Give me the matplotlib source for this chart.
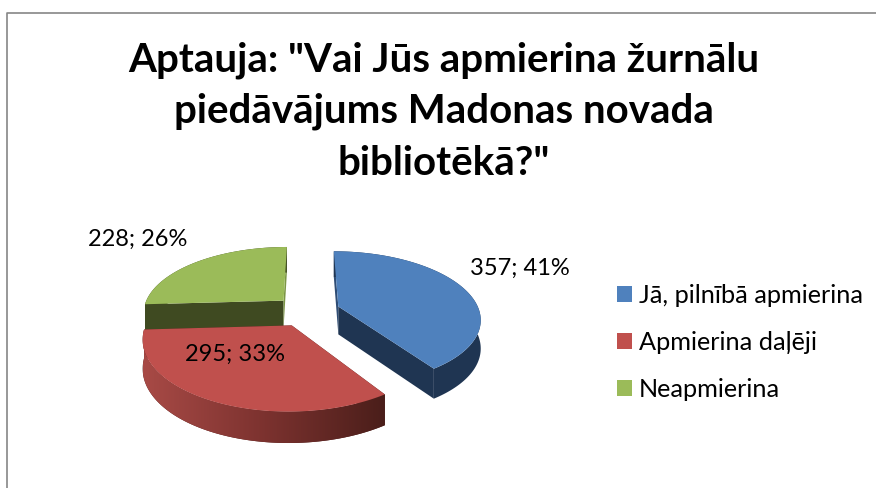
import numpy as np
import matplotlib
matplotlib.use("Agg")
import matplotlib.pyplot as plt
from matplotlib.colors import LinearSegmentedColormap
from matplotlib.patches import Patch, Polygon

categories = ["Jā, pilnībā apmierina", "Apmierina daļēji", "Neapmierina"]
counts = [357, 295, 228]
percents = [41, 33, 26]
title = 'Aptauja: "Vai Jūs apmierina žurnālu\npiedāvājums Madonas novada\nbibliotēkā?"'

top_colors = ["#4f81bd", "#c0504d", "#9bbb59"]
wall_colors = ["#1f3552", "#4d1f1c", "#3f4a21"]
start_face = ["#2f4d75", "#4d1f1c", "#3f4a21"]
end_face = ["#1f3552", "#4d1f1c", "#7c9645"]

# where the labels sit, in picture pixels
label_xy = [(520, 268), (235, 354), (138, 239)]

# pie shape on the picture
CX, CY = 307, 311
A, B = 141, 66
PERSP = 0.17
EXPLODE = 0.235
DEPTH = 28

red_wall = LinearSegmentedColormap.from_list("red_wall", ["#a84a46", "#7c322f", "#4a1e1a"])


def project(u, v):
    f = 1 / (1 + PERSP * v)
    return CX + A * u * f, CY - B * v * f, DEPTH * f ** 0.5


fig = plt.figure(figsize=(8.76, 4.88), dpi=100, facecolor="white")
ax = fig.add_axes([0, 0, 1, 1])

# chart frame, runs off the right and bottom of the crop
ax.plot([7, 7, 876], [488, 12.5, 12.5], color="#868686", lw=1.2)

# bits of the page text cut off above the chart
for x, s in [(47, "p"), (108, "j"), (397, "p")]:
    ax.text(x, -3.5, s, fontsize=13, family="Lato", ha="center", va="baseline",
            color="black", clip_on=False)

ax.text(444, 111.5, title, family="Lato", fontsize=29, fontweight="bold",
        ha="center", va="center", linespacing=1.47, color="black")

angles = np.cumsum([0] + counts) / sum(counts) * 2 * np.pi
z = 2
# draw order back to front: green, blue, red
for i in [2, 0, 1]:
    start, end = angles[i], angles[i + 1]
    mid = (start + end) / 2
    du, dv = EXPLODE * np.sin(mid), EXPLODE * np.cos(mid)
    t = np.linspace(start, end, 120)
    pts = np.array([project(du + np.sin(a), dv + np.cos(a)) for a in t])
    rim = pts[:, :2]
    low = rim + np.column_stack([np.zeros(len(pts)), pts[:, 2]])
    ax_, ay_, ad_ = project(du, dv)
    apex = np.array([ax_, ay_])
    apex_low = np.array([ax_, ay_ + ad_])

    # cut faces
    ax.add_patch(Polygon([apex, rim[0], low[0], apex_low], fc=start_face[i], ec="none", zorder=z))
    ax.add_patch(Polygon([apex, rim[-1], low[-1], apex_low], fc=end_face[i], ec="none", zorder=z))

    # outer wall, red one has a shading across it
    wall = Polygon(np.vstack([rim, low[::-1]]), fc=wall_colors[i], ec="none", zorder=z)
    ax.add_patch(wall)
    if i == 1:
        x0, x1 = low[:, 0].min(), low[:, 0].max()
        im = ax.imshow(np.linspace(0, 1, 256)[None, :], cmap=red_wall, aspect="auto",
                       extent=(x0, x1, low[:, 1].max(), rim[:, 1].min()), zorder=z)
        im.set_clip_path(wall)

    ax.add_patch(Polygon(np.vstack([apex, rim]), fc=top_colors[i], ec="none", zorder=z + 0.5))
    z += 1

ax.set_xlim(0, 876)
ax.set_ylim(488, 0)
ax.axis("off")

for (x, y), n, p in zip(label_xy, counts, percents):
    ax.text(x, y, f"{n}; {p}%", family="Lato", fontsize=17, ha="center", va="center",
            color="black", zorder=10)

handles = [Patch(fc=c, ec="none") for c in top_colors]
ax.legend(handles, categories, loc="upper left", bbox_to_anchor=(617 / 876, 1 - 284 / 488),
          frameon=False, prop={"family": "Lato", "size": 18.2}, handlelength=0.6,
          handleheight=0.6, handletextpad=0.28, labelspacing=0.95, borderpad=0,
          borderaxespad=0)

fig.savefig("out.png", dpi=100, facecolor="white")
